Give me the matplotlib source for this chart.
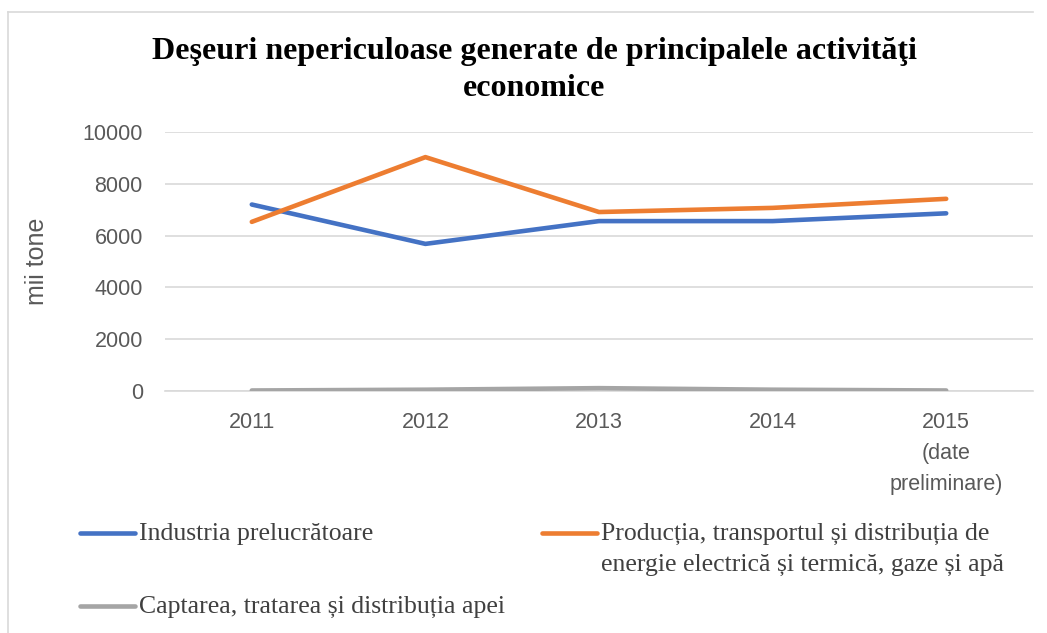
import matplotlib
matplotlib.use("Agg")
import matplotlib.pyplot as plt
from matplotlib.lines import Line2D

years = ["2011", "2012", "2013", "2014", "2015\n(date\npreliminare)"]
industria = [7200, 5680, 6560, 6560, 6860]
productia = [6530, 9030, 6910, 7070, 7420]
captarea = [20, 50, 110, 50, 20]
series_names = [
    "Industria prelucrătoare",
    "Producția, transportul și distribuția de\nenergie electrică și termică, gaze și apă",
    "Captarea, tratarea și distribuția apei",
]
colors = ["#4472C4", "#ED7D31", "#A5A5A5"]
yticks = [0, 2000, 4000, 6000, 8000, 10000]

W, H = 1047, 633
fig = plt.figure(figsize=(W / 100, H / 100), dpi=100)

# outer chart border (left and top visible)
fig.add_artist(Line2D([8 / W, 8 / W], [0, 1 - 12 / H], transform=fig.transFigure,
                      color="#D9D9D9", lw=1.2))
fig.add_artist(Line2D([8 / W, 1033 / W], [1 - 12 / H, 1 - 12 / H], transform=fig.transFigure,
                      color="#D9D9D9", lw=1.2))

ax = fig.add_axes([165 / W, 1 - 391 / H, (1033 - 165) / W, (391 - 132) / H])
x = list(range(len(years)))
for vals, c in zip([industria, productia, captarea], colors):
    ax.plot(x, vals, color=c, lw=3.3, solid_capstyle="round", solid_joinstyle="round", zorder=3)

ax.set_xlim(-0.5, len(years) - 0.5)
ax.set_ylim(0, 10000)
ax.set_yticks(yticks)
ax.set_yticklabels([str(v) for v in yticks])
ax.set_xticks(x)
ax.set_xticklabels(years, linespacing=1.63)
for s in ["left", "right", "top"]:
    ax.spines[s].set_visible(False)
ax.spines["bottom"].set_color("#D9D9D9")
ax.spines["bottom"].set_linewidth(1.2)
ax.grid(axis="y", color="#D9D9D9", lw=1.2)
ax.set_axisbelow(True)
ax.tick_params(axis="both", length=0, labelsize=15.5, labelcolor="#595959")
ax.tick_params(axis="y", pad=16)
ax.tick_params(axis="x", pad=15)
for lab in ax.get_xticklabels() + ax.get_yticklabels():
    lab.set_family("Liberation Sans")
ax.set_ylabel("mii tone", fontsize=18, color="#595959", family="Liberation Sans", labelpad=24)

fig.text(534 / W, 1 - 70 / H,
         "Deşeuri nepericuloase generate de principalele activităţi\neconomice",
         ha="center", va="center", fontsize=23, fontweight="bold",
         family="Liberation Serif", linespacing=1.38)

# legend drawn manually
entries = [(80, 533, 0), (542, 533, 1), (80, 606, 2)]
for lx, ly, i in entries:
    fig.add_artist(Line2D([lx / W, (lx + 55) / W], [1 - ly / H, 1 - ly / H],
                          transform=fig.transFigure, color=colors[i], lw=3.3,
                          solid_capstyle="round"))
    fig.text((lx + 59) / W, 1 - (ly - 10) / H, series_names[i], ha="left", va="top",
             fontsize=18.5, family="Liberation Serif", color="#404040", linespacing=1.5)

fig.savefig("out.png", dpi=100)
